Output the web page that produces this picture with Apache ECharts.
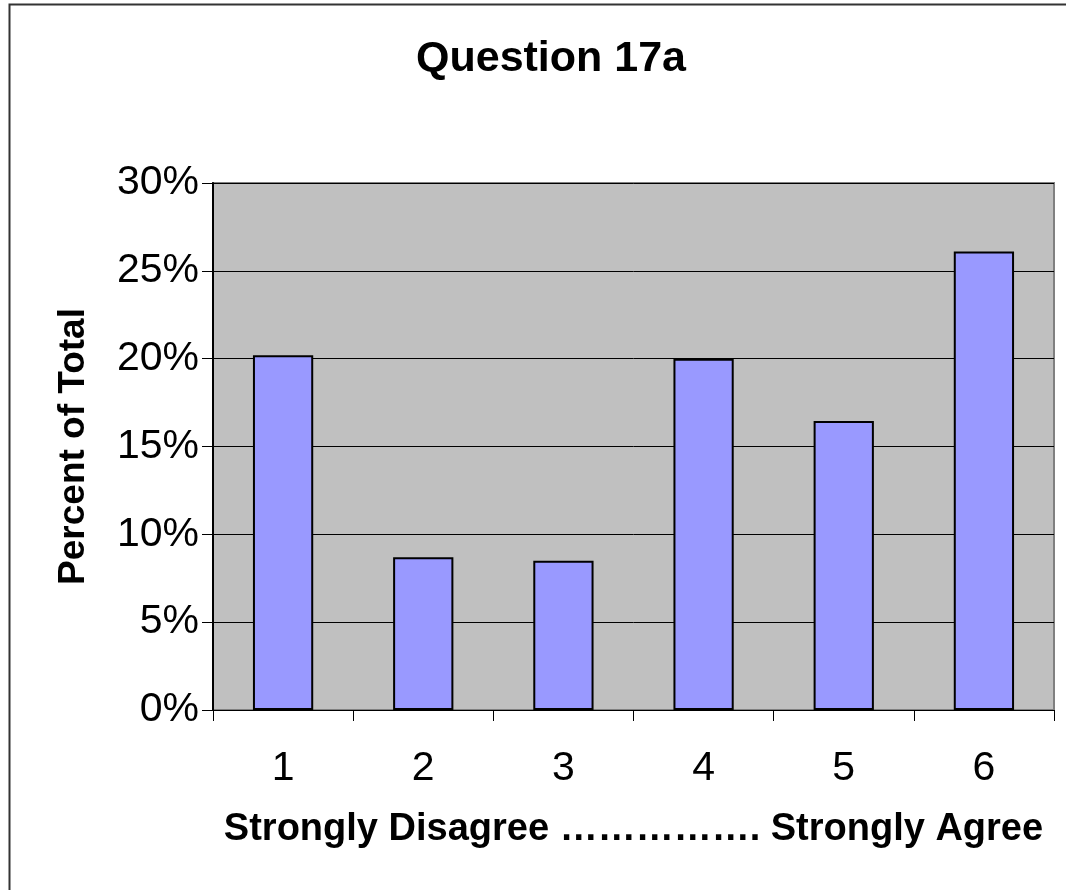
<!DOCTYPE html>
<html>
<head>
<meta charset="utf-8">
<script src="https://cdn.jsdelivr.net/npm/echarts@6/dist/echarts.min.js"></script>
<style>
  html, body { margin: 0; padding: 0; background: #fff; }
  #chart { width: 1066px; height: 890px; }
</style>
</head>
<body>
<div id="chart"></div>
<script>
const categories = ['1', '2', '3', '4', '5', '6'];
const percentOfTotal = [20.2, 8.7, 8.5, 20.0, 16.45, 26.1];
const yTicks = [0, 5, 10, 15, 20, 25, 30];

const font = '"Liberation Sans", Arial, sans-serif';
const chart = echarts.init(document.getElementById('chart'));

chart.setOption({
  animation: false,
  backgroundColor: '#fff',
  title: {
    text: 'Question 17a',
    left: 411,
    top: 33,
    textStyle: { fontFamily: font, fontSize: 43, fontWeight: 'bold', color: '#000' },
  },
  graphic: [
    {
      type: 'rect',
      shape: { x: 9.5, y: 4.5, width: 1080, height: 900 },
      style: { fill: 'none', stroke: '#333', lineWidth: 2 },
      silent: true,
    },
  ],
  grid: {
    left: 213, right: 12, top: 183, bottom: 180,
    show: true,
    backgroundColor: '#C0C0C0',
    borderColor: '#808080',
    borderWidth: 2,
  },
  xAxis: {
    type: 'category',
    data: categories,
    name: 'Strongly Disagree ……………. Strongly Agree',
    nameLocation: 'middle',
    nameGap: 101,
    nameTextStyle: { fontFamily: font, fontSize: 38, fontWeight: 'bold', color: '#000' },
    axisLine: { lineStyle: { color: '#000', width: 1 } },
    axisTick: { show: true, length: 11, lineStyle: { color: '#000' } },
    axisLabel: { fontFamily: font, fontSize: 41, color: '#000', margin: 38 },
  },
  yAxis: {
    type: 'value',
    min: yTicks[0],
    max: yTicks[yTicks.length - 1],
    interval: 5,
    name: 'Percent of Total',
    nameLocation: 'middle',
    nameGap: 121,
    nameTextStyle: { fontFamily: font, fontSize: 37, fontWeight: 'bold', color: '#000' },
    axisLine: { show: true, lineStyle: { color: '#000', width: 2 } },
    axisTick: { show: true, length: 11, lineStyle: { color: '#000' } },
    axisLabel: { fontFamily: font, fontSize: 41, color: '#000', margin: 14, formatter: '{value}%' },
    splitLine: { show: true, lineStyle: { color: '#000', width: 1 } },
  },
  series: [
    {
      type: 'bar',
      data: percentOfTotal,
      barWidth: '43%',
      itemStyle: { color: '#9999FF', borderColor: '#000', borderWidth: 2 },
    },
  ],
});
</script>
</body>
</html>
